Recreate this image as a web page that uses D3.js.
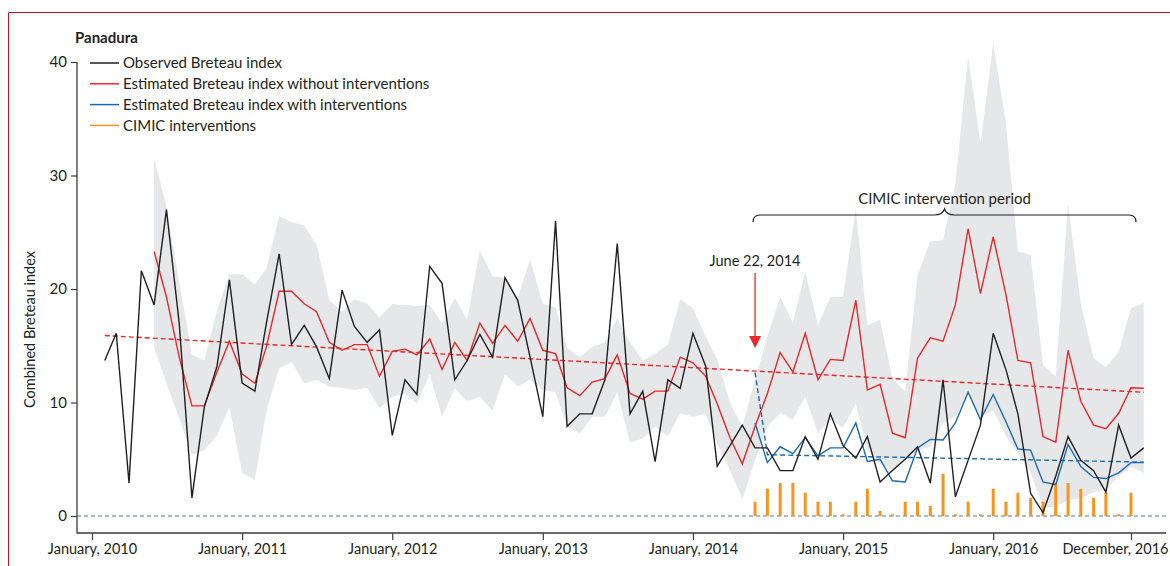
<!DOCTYPE html>
<html>
<head>
<meta charset="utf-8">
<script src="https://cdn.jsdelivr.net/npm/d3@7"></script>
<style>
  body { margin: 0; background: #fff; }
  svg text { font-family: Lato, "Open Sans", sans-serif; fill: #231f20; }
</style>
</head>
<body>
<svg id="chart" width="1170" height="566"></svg>
<script>
// monthly series, each one starts at the month given in its *Start
const observedStart = "2010-02";
const observed = [13.7, 16.1, 2.9, 21.6, 18.6, 27.0, 17.0, 1.6, 9.6, 13.2,
  20.8, 11.7, 11.0, 17.0, 23.1, 15.1, 16.8, 14.9, 12.1, 19.9,
  16.7, 15.3, 16.4, 7.1, 12.0, 10.7, 22.0, 20.5, 12.0, 13.7,
  16.0, 14.0, 21.0, 19.0, 14.0, 8.75, 26.0, 7.9, 9.0, 9.0,
  12.0, 24.0, 9.0, 11.0, 4.8, 12.0, 11.25, 16.1, 13.2, 4.4,
  6.2, 8.0, 6.0, 6.0, 4.0, 4.0, 7.0, 5.0, 9.0, 6.2,
  5.1, 7.0, 3.0, 4.0, 5.0, 6.1, 2.9, 12.0, 1.7, 4.9,
  8.0, 16.1, 12.9, 9.0, 2.0, 0.3, 3.5, 7.0, 4.9, 4.0,
  2.1, 8.0, 5.1, 6.0];

const estimatedStart = "2010-06";
const withoutInterv = [23.3, 19.3, 14.0, 9.7, 9.7, 12.7, 15.4, 12.5, 11.7, 14.9,
  19.8, 19.8, 18.7, 18.0, 15.3, 14.6, 15.1, 15.1, 12.3, 14.5,
  14.7, 14.2, 15.6, 12.9, 15.3, 13.7, 17.0, 15.2, 16.8, 15.4,
  17.4, 14.6, 14.3, 11.3, 10.6, 11.8, 12.1, 14.2, 10.8, 10.3,
  11.0, 11.0, 14.0, 13.5, 12.3, 9.9, 6.9, 4.6, 7.9, 10.8,
  14.4, 12.7, 16.1, 12.0, 13.8, 13.7, 19.0, 11.1, 11.6, 7.3,
  6.9, 13.9, 15.7, 15.4, 18.6, 25.3, 19.6, 24.6, 19.5, 13.7,
  13.5, 7.0, 6.5, 14.6, 10.1, 8.0, 7.7, 9.05, 11.3, 11.25];
const bandUpper = [31.5, 27.3, 20.6, 14.2, 13.7, 18.1, 21.3, 21.3, 20.4, 21.8,
  26.4, 25.9, 25.6, 23.9, 19.0, 18.0, 19.1, 18.7, 17.5, 18.7,
  18.6, 18.5, 18.6, 17.0, 19.2, 17.3, 23.4, 21.1, 21.0, 19.2,
  22.6, 18.7, 18.4, 14.8, 14.0, 14.9, 15.3, 17.4, 15.3, 13.7,
  14.3, 15.1, 19.1, 18.3, 15.8, 13.8, 10.0, 7.9, 12.0, 15.8,
  19.3, 17.0, 21.5, 16.8, 19.3, 19.3, 27.1, 16.8, 17.3, 12.1,
  11.0, 21.2, 24.2, 24.3, 29.2, 40.5, 32.8, 41.6, 34.6, 23.3,
  23.0, 13.3, 12.3, 27.5, 18.7, 13.9, 13.1, 14.5, 18.3, 18.8];
const bandLower = [14.9, 11.7, 8.6, 5.4, 5.8, 7.1, 9.6, 3.8, 3.2, 9.3,
  13.0, 13.6, 11.7, 12.0, 11.4, 11.3, 11.1, 11.3, 9.5, 10.5,
  10.8, 9.9, 12.5, 8.75, 11.25, 10.1, 10.5, 9.3, 12.5, 11.4,
  12.0, 11.1, 10.9, 7.9, 7.3, 8.75, 8.75, 10.9, 6.5, 6.8,
  7.9, 7.0, 9.05, 8.75, 9.0, 6.4, 4.05, 1.5, 4.9, 7.9,
  9.05, 8.5, 10.5, 7.3, 8.5, 7.8, 9.9, 5.8, 4.6, 4.05,
  4.9, 5.8, 6.1, 8.2, 8.75, 10.8, 8.75, 9.3, 7.1, 5.5,
  3.8, 0.8, 0.8, 1.4, 1.55, 2.1, 2.3, 3.5, 4.35, 3.8];

const interventionStart = "2014-06";
const withInterv = [8.2, 4.7, 6.1, 5.5, 6.9, 5.3, 6.0, 6.0, 8.2, 4.8,
  5.0, 3.1, 3.0, 6.0, 6.75, 6.7, 8.2, 10.9, 8.5, 10.7,
  8.3, 5.9, 5.8, 3.0, 2.75, 6.3, 4.35, 3.4, 3.3, 3.8,
  4.7, 4.7];
const cimic = [1.26, 2.4, 2.9, 2.9, 2.05, 1.26, 1.26, 0.15, 1.26, 2.4,
  0.45, 0.15, 1.26, 1.26, 0.9, 3.7, 0.15, 1.26, 0.15, 2.4,
  1.26, 2.05, 1.6, 1.26, 2.9, 2.9, 2.4, 1.6, 2.05, 0.15,
  2.05];

// dashed trend lines: [month, value]
const trendWithout = [["2010-02", 15.9], ["2017-01", 10.9]];
const trendWith = [["2014-06", 12.65], ["2014-07", 5.4], ["2017-01", 4.75]];

const yTicks = [0, 10, 20, 30, 40];
const xTicks = ["2010-01", "2011-01", "2012-01", "2013-01", "2014-01", "2015-01", "2016-01", "2016-12"];
const xTickLabels = ["January, 2010", "January, 2011", "January, 2012", "January, 2013",
  "January, 2014", "January, 2015", "January, 2016", "December, 2016"];

const legendItems = [
  {label: "Observed Breteau index", color: "#231f20"},
  {label: "Estimated Breteau index without interventions", color: "#e8282b"},
  {label: "Estimated Breteau index with interventions", color: "#1a6bb3"},
  {label: "CIMIC interventions", color: "#f7941d"}
];

const parseMonth = d3.timeParse("%Y-%m");
// turn a series into {date, value} starting at a given month
function monthly(start, values) {
  const s = parseMonth(start);
  return values.map((v, i) => ({date: d3.timeMonth.offset(s, i), value: v}));
}

const svg = d3.select("#chart");
const W = 1170, H = 566;

// frame (journal border)
svg.append("path")
  .attr("d", `M8.5,${H} V12.5 H${W}`)
  .attr("fill", "none").attr("stroke", "#c8102e").attr("stroke-width", 1);

const x = d3.scaleTime()
  .domain([parseMonth("2010-01"), parseMonth("2016-12")])
  .range([92, 1131]);
const y = d3.scaleLinear().domain([0, 40]).range([516, 62]);

const axisLeftX = 77, axisBottomY = 533;

// uncertainty band
const bandData = monthly(estimatedStart, bandUpper).map((d, i) => ({date: d.date, hi: d.value, lo: bandLower[i]}));
svg.append("path")
  .datum(bandData)
  .attr("fill", "#e6e7e8")
  .attr("d", d3.area().x(d => x(d.date)).y0(d => y(d.lo)).y1(d => y(d.hi)));

// zero reference line
svg.append("line")
  .attr("x1", axisLeftX).attr("x2", 1166)
  .attr("y1", y(0)).attr("y2", y(0))
  .attr("stroke", "#5f7d88").attr("stroke-width", 1.1)
  .attr("stroke-dasharray", "4,3");

// CIMIC bars
svg.append("g").selectAll("rect")
  .data(monthly(interventionStart, cimic))
  .join("rect")
  .attr("x", d => x(d.date) - 1.5)
  .attr("y", d => y(d.value))
  .attr("width", 3)
  .attr("height", d => y(0) - y(d.value))
  .attr("fill", "#f7941d");

const line = d3.line().x(d => x(d.date)).y(d => y(d.value));

// trend lines
function trend(points) {
  return points.map(p => ({date: parseMonth(p[0]), value: p[1]}));
}
svg.append("path").datum(trend(trendWithout))
  .attr("fill", "none").attr("stroke", legendItems[1].color).attr("stroke-width", 1.4)
  .attr("stroke-dasharray", "5,3").attr("d", line);
svg.append("path").datum(trend(trendWith))
  .attr("fill", "none").attr("stroke", legendItems[2].color).attr("stroke-width", 1.4)
  .attr("stroke-dasharray", "5,3").attr("d", line);

// series lines
const series = [
  {data: monthly(estimatedStart, withoutInterv), color: legendItems[1].color},
  {data: monthly(interventionStart, withInterv), color: legendItems[2].color},
  {data: monthly(observedStart, observed), color: legendItems[0].color}
];
series.forEach(s => {
  svg.append("path").datum(s.data)
    .attr("fill", "none").attr("stroke", s.color)
    .attr("stroke-width", 1.4).attr("stroke-linejoin", "miter")
    .attr("d", line);
});

// axes
const yAxis = svg.append("g")
  .attr("transform", `translate(${axisLeftX},0)`)
  .call(d3.axisLeft(y).tickValues(yTicks).tickSize(6).tickPadding(4));
yAxis.select(".domain").remove();
yAxis.selectAll(".tick line").attr("stroke", "#3c3c3c").attr("stroke-width", 1.2);
yAxis.selectAll("text").style("font-size", "15px").attr("fill", "#231f20");

const xAxis = svg.append("g")
  .attr("transform", `translate(0,${axisBottomY})`)
  .call(d3.axisBottom(x).tickValues(xTicks.map(parseMonth))
    .tickFormat((d, i) => xTickLabels[i]).tickSize(7).tickPadding(4));
xAxis.select(".domain").remove();
xAxis.selectAll(".tick line").attr("stroke", "#3c3c3c").attr("stroke-width", 1.2);
xAxis.selectAll("text").style("font-size", "14.5px").attr("fill", "#231f20");
// last label sits left of its tick so it stays inside the figure
xAxis.selectAll(".tick text").filter((d, i) => i === xTicks.length - 1)
  .attr("text-anchor", "end").attr("x", 37);

svg.append("path")
  .attr("d", `M${axisLeftX},${y(40)} V${axisBottomY} H1166`)
  .attr("fill", "none").attr("stroke", "#3c3c3c").attr("stroke-width", 1.3);

// axis title
svg.append("text")
  .attr("transform", `translate(35,${(y(40) + axisBottomY) / 2 + 32}) rotate(-90)`)
  .attr("text-anchor", "middle")
  .style("font-size", "14.5px")
  .text("Combined Breteau index");

// panel title
svg.append("text")
  .attr("x", 75).attr("y", 43)
  .style("font-size", "15px").style("font-weight", "bold")
  .text("Panadura");

// legend
const legend = svg.append("g").attr("transform", "translate(90,63)");
legendItems.forEach((d, i) => {
  const row = legend.append("g").attr("transform", `translate(0,${i * 20.8})`);
  row.append("line").attr("x1", 0).attr("x2", 29).attr("y1", 0).attr("y2", 0)
    .attr("stroke", d.color).attr("stroke-width", 1.5);
  row.append("text").attr("x", 33).attr("dy", "0.35em")
    .style("font-size", "15px").text(d.label);
});

// intervention start annotation
const xStart = x(parseMonth(interventionStart));
svg.append("text")
  .attr("x", xStart).attr("y", 266)
  .attr("text-anchor", "middle")
  .style("font-size", "14.5px")
  .text("June 22, 2014");
svg.append("line")
  .attr("x1", xStart).attr("x2", xStart).attr("y1", 273).attr("y2", 338)
  .attr("stroke", "#e8282b").attr("stroke-width", 1.3);
svg.append("path")
  .attr("d", `M${xStart - 6},336 L${xStart + 6},336 L${xStart},348 Z`)
  .attr("fill", "#e8282b");

// brace over the intervention period
const bx0 = xStart - 2, bx1 = x(parseMonth("2016-12")) + 5, bm = (bx0 + bx1) / 2;
const by = 215;
svg.append("path")
  .attr("d", `M${bx0},${by + 7} Q${bx0},${by} ${bx0 + 7},${by} H${bm - 10} Q${bm - 2},${by} ${bm},${by - 6}` +
    ` Q${bm + 2},${by} ${bm + 10},${by} H${bx1 - 7} Q${bx1},${by} ${bx1},${by + 7}`)
  .attr("fill", "none").attr("stroke", "#231f20").attr("stroke-width", 1.2);
svg.append("text")
  .attr("x", bm).attr("y", 204)
  .attr("text-anchor", "middle")
  .style("font-size", "15px")
  .text("CIMIC intervention period");
</script>
</body>
</html>
